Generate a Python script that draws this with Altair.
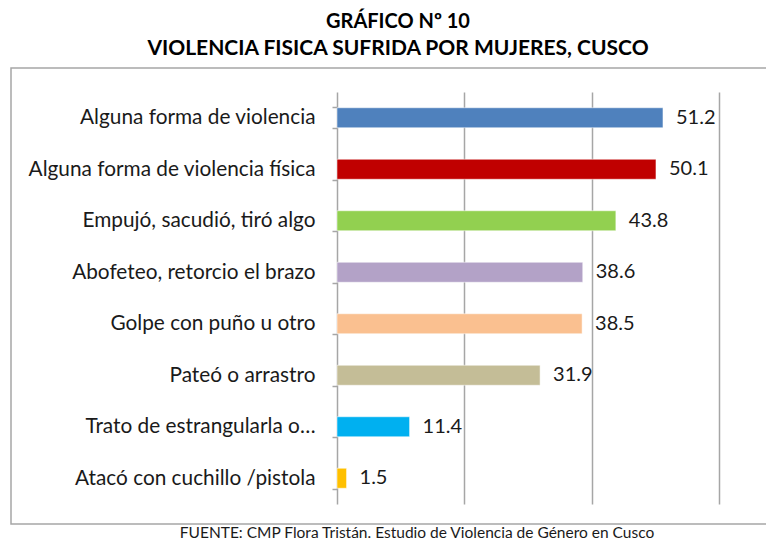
import altair as alt
import pandas as pd

categories = [
    "Alguna forma de violencia",
    "Alguna forma de violencia física",
    "Empujó, sacudió, tiró algo",
    "Abofeteo, retorcio el brazo",
    "Golpe con puño u otro",
    "Pateó o arrastro",
    "Trato de estrangularla o…",
    "Atacó con cuchillo /pistola",
]
values = [51.2, 50.1, 43.8, 38.6, 38.5, 31.9, 11.4, 1.5]
colors = ["#4F81BD", "#C00000", "#92D050", "#B3A2C7", "#FAC090", "#C4BD97", "#00B0F0", "#FFC000"]
title_lines = ["GRÁFICO Nº 10", "VIOLENCIA FISICA SUFRIDA POR MUJERES, CUSCO"]
source_text = "FUENTE: CMP Flora Tristán. Estudio de Violencia de Género en Cusco"

FONT = "Lato"
W, H = 382, 412

df = pd.DataFrame({"cat": categories, "val": values, "color": colors})

y_enc = alt.Y(
    "cat:N",
    sort=categories,
    title=None,
    scale=alt.Scale(paddingInner=0.6, paddingOuter=0.3),
    axis=alt.Axis(
        tickBand="extent",
        domainColor="#a6a6a6",
        domainWidth=1.5,
        tickColor="#a6a6a6",
        tickWidth=1.5,
        tickSize=5,
        labelFont=FONT,
        labelFontSize=20.8,
        labelColor="#1a1a1a",
        labelPadding=17,
        labelLimit=330,
    ),
)
x_enc = alt.X(
    "val:Q",
    title=None,
    scale=alt.Scale(domain=[0, 60]),
    axis=alt.Axis(
        values=[20, 40, 60],
        labels=False,
        ticks=False,
        domain=False,
        grid=True,
        gridColor="#a6a6a6",
        gridWidth=1.5,
    ),
)

bars = alt.Chart(df).mark_bar(size=20, stroke="white", strokeOpacity=0.5, strokeWidth=1).encode(
    x=x_enc,
    y=y_enc,
    color=alt.Color("color:N", scale=None),
)
labels = alt.Chart(df).mark_text(
    align="left", baseline="middle", dx=13, font=FONT, fontSize=20, color="#1a1a1a"
).encode(
    x="val:Q",
    y=alt.Y("cat:N", sort=categories),
    text=alt.Text("val:Q", format=".1f"),
)

one = alt.Data(values=[{"a": 1}])
frame = alt.Chart(one).mark_rect(fillOpacity=0, stroke="#a6a6a6", strokeWidth=1.5).encode(
    x=alt.value(-326), x2=alt.value(436), y=alt.value(-24), y2=alt.value(432)
)
t1 = alt.Chart(one).mark_text(
    text=title_lines[0], font=FONT, fontSize=20, fontWeight="bold", color="#000000", baseline="middle"
).encode(x=alt.value(61), y=alt.value(-70))
t2 = alt.Chart(one).mark_text(
    text=title_lines[1], font=FONT, fontSize=21, fontWeight="bold", color="#000000", baseline="middle"
).encode(x=alt.value(61), y=alt.value(-43))
src = alt.Chart(one).mark_text(
    text=source_text, font=FONT, fontSize=15.5, color="#1a1a1a", baseline="alphabetic"
).encode(x=alt.value(80), y=alt.value(445.5))

chart = (
    alt.layer(frame, bars, labels, t1, t2, src)
    .properties(
        width=W,
        height=H,
        autosize=alt.AutoSizeParams(type="none"),
        padding={"left": 329, "top": 84, "right": 47, "bottom": 37},
    )
    .configure_view(stroke=None)
)

chart.save("out.html", embed_options={"renderer": "svg", "actions": False})
